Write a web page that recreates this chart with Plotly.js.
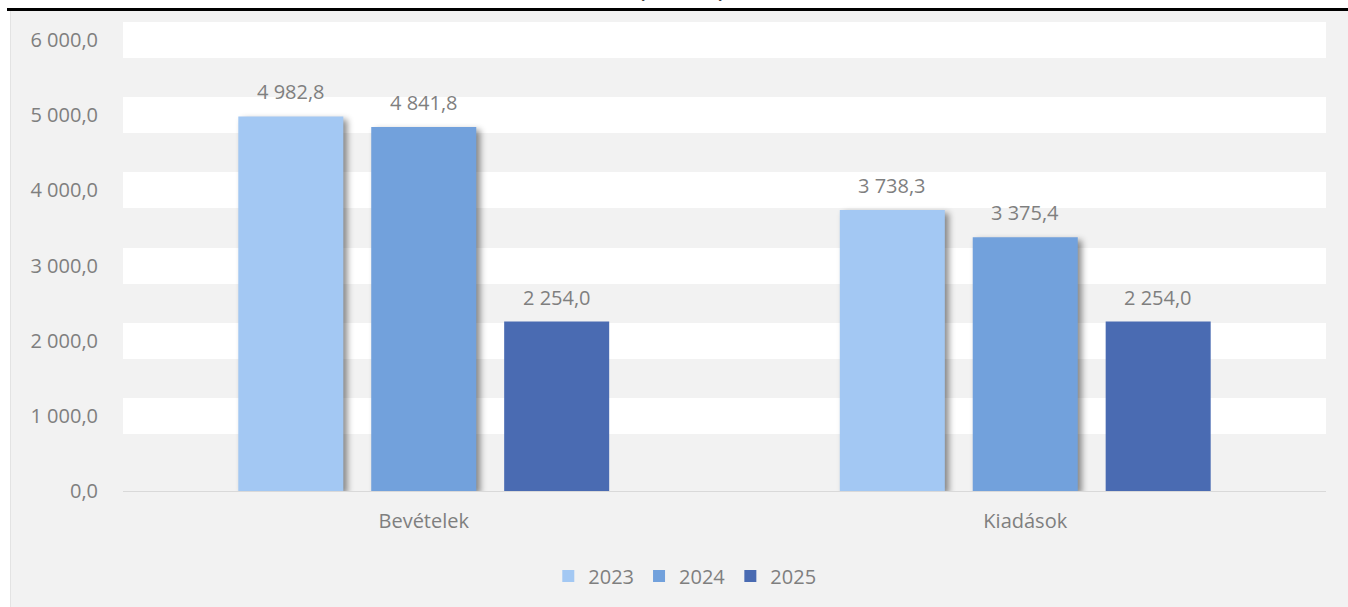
<!DOCTYPE html>
<html>
<head>
<meta charset="utf-8">
<script src="https://cdn.plot.ly/plotly-3.0.1.min.js"></script>
<style>
  html, body { margin: 0; padding: 0; background: #ffffff; width: 1348px; height: 607px; overflow: hidden; }
  #bg { position: absolute; left: 10px; top: 10px; width: 1338px; height: 597px; background: #f2f2f2; border-left: 1px solid #e3e3e3; box-sizing: border-box; }
  #rule { position: absolute; left: 7px; top: 8px; width: 1341px; height: 3px; background: #000000; z-index: 3; }
  #chart { position: absolute; left: 0; top: 0; width: 1348px; height: 607px; z-index: 2; }
  .barlayer .trace:nth-child(1) path,
  .barlayer .trace:nth-child(2) path { filter: drop-shadow(4px 3px 3px rgba(0,0,0,0.45)); }
</style>
</head>
<body>
<div id="bg"></div>
<div id="rule"></div>
<div id="chart"></div>
<script>
// ---- data ----
const categories = ['Bevételek', 'Kiadások'];
const seriesNames = ['2023', '2024', '2025'];
const values2023 = [4982.8, 3738.3];
const values2024 = [4841.8, 3375.4];
const values2025 = [2254.0, 2254.0];
const titleText = '(millió Ft)';

// ---- styles ----
const seriesValues = [values2023, values2024, values2025];
const seriesColors = ['#a3c8f3', '#72a1dc', '#4a6bb2'];
const textGray = '#7f7f7f';
const font = 'Open Sans, Noto Sans, sans-serif';

const traces = seriesNames.map((name, i) => ({
  type: 'bar',
  name: name,
  x: categories,
  y: seriesValues[i],
  marker: { color: seriesColors[i], line: { width: 0 } },
  hoverinfo: 'skip'
}));

// format numbers as "4 982,8"
function fmt(v) {
  const parts = v.toFixed(1).split('.');
  return parts[0].replace(/\B(?=(\d{3})+(?!\d))/g, ' ') + ',' + parts[1];
}

// value labels above each bar
const slotShift = [-133, 0, 133];
const annotations = [];
seriesValues.forEach((vals, i) => {
  vals.forEach((v, j) => {
    annotations.push({
      x: categories[j], y: v, xref: 'x', yref: 'y',
      text: fmt(v),
      showarrow: false, xanchor: 'center', yanchor: 'bottom',
      xshift: slotShift[i], yshift: 9,
      font: { family: font, size: 20, color: textGray }
    });
  });
});

// title, cut off at the top edge as in the original
annotations.push({
  xref: 'paper', yref: 'paper', x: 0.464, y: 1,
  text: '<b>' + titleText + '</b>', showarrow: false,
  xanchor: 'center', yanchor: 'bottom', yshift: 17,
  font: { family: font, size: 18, color: '#000000' }
});

const layout = {
  width: 1348, height: 607,
  margin: { l: 123, r: 22, t: 22, b: 116, pad: 0 },
  paper_bgcolor: 'rgba(0,0,0,0)',
  plot_bgcolor: '#f2f2f2',
  separators: ', ',
  barmode: 'group',
  bargap: 0.337,
  bargroupgap: 0.21,
  showlegend: true,
  legend: {
    orientation: 'h', xref: 'container', yref: 'container',
    x: 0.508, xanchor: 'center', y: 0.051, yanchor: 'middle',
    font: { family: font, size: 20, color: textGray },
    bgcolor: 'rgba(0,0,0,0)', itemwidth: 30, traceorder: 'normal'
  },
  xaxis: {
    type: 'category',
    showgrid: false, showline: false, zeroline: false,
    ticks: 'outside', ticklen: 12, tickcolor: 'rgba(0,0,0,0)',
    tickfont: { family: font, size: 20, color: textGray },
    fixedrange: true
  },
  yaxis: {
    range: [0, 6240], dtick: 1000, tick0: 0,
    tickformat: ',.1f',
    showgrid: true, gridcolor: '#ffffff', gridwidth: 36,
    zeroline: true, zerolinecolor: '#d9d9d9', zerolinewidth: 1,
    showline: false,
    ticks: 'outside', ticklen: 20, tickcolor: 'rgba(0,0,0,0)',
    tickfont: { family: font, size: 20, color: textGray },
    fixedrange: true
  },
  annotations: annotations
};

Plotly.newPlot('chart', traces, layout, { displayModeBar: false, staticPlot: true });
</script>
</body>
</html>
